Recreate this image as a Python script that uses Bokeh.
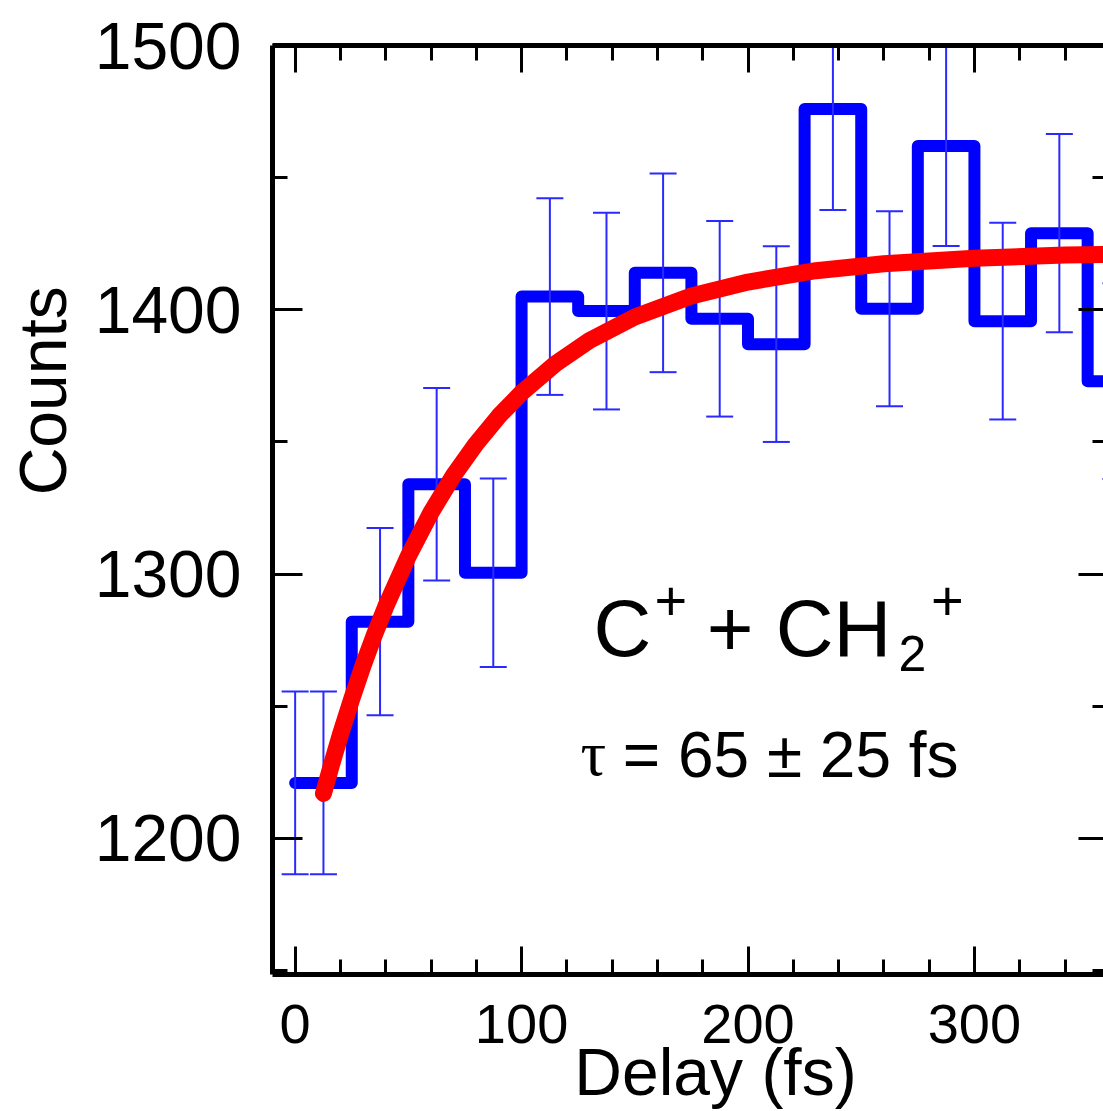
import math
from bokeh.plotting import figure
from bokeh.models import Range1d, LinearAxis, FixedTicker, Label
from bokeh.embed import file_html
from bokeh.resources import INLINE

# ---------------- data ----------------
bin_edges = [0, 25, 50, 75, 100, 125, 150, 175, 200, 225, 250, 275, 300, 325, 350, 375]
counts = [1221, 1282, 1334, 1300.5, 1405, 1399.5, 1414, 1396.6, 1387, 1476, 1400.4, 1462, 1395.7, 1429, 1373]

err_x = [0, 12.5, 37.5, 62.5, 87.5, 112.5, 137.5, 162.5, 187.5, 212.5, 237.5, 262.5, 287.5, 312.5, 337.5, 362.5]
err_y = [1221, 1221, 1282, 1334, 1300.5, 1405, 1399.5, 1414, 1396.6, 1387, 1476, 1400.4, 1462, 1395.7, 1429, 1373]
err_half = [34.6, 34.6, 35.4, 36.4, 35.7, 37.2, 37.2, 37.6, 37.0, 37.0, 38.2, 36.9, 37.9, 37.2, 37.5, 37.0]

fit_x = [12.5, 16, 20, 25, 30, 35, 40, 50, 60, 70, 80, 90, 100, 115, 130, 150, 175, 200, 230, 260, 300, 340, 360]
fit_y = [1217.0, 1227.7, 1239.3, 1252.8, 1265.4, 1277.0, 1287.7, 1306.8, 1323.3, 1337.4, 1349.4, 1359.8,
         1368.6, 1379.6, 1388.4, 1397.3, 1405.2, 1410.5, 1414.8, 1417.4, 1419.5, 1420.7, 1421.0]

x_major = [0, 100, 200, 300]
x_minor = [20, 40, 60, 80, 120, 140, 160, 180, 220, 240, 260, 280, 320, 340]
y_major = [1200, 1300, 1400, 1500]
y_minor = [1150, 1250, 1350, 1450]

x_title = "Delay (fs)"
y_title = "Counts"
species = ["C", "+", "+ CH", "2", "+"]
tau_sym = "\u03c4"
tau_text = "= 65 \u00b1 25 fs"

NBSP = "\u00a0"

# ---------------- figure ----------------
FONT = "Liberation Sans"
p = figure(width=1103, height=1111,
           x_range=Range1d(-10, 357), y_range=Range1d(1148.5, 1500),
           output_backend="svg", toolbar_location=None,
           x_axis_location=None, y_axis_location=None,
           min_border_left=272, min_border_right=0,
           min_border_top=45, min_border_bottom=137)
p.outline_line_color = None
p.xgrid.visible = False
p.ygrid.visible = False
p.background_fill_color = "white"
p.border_fill_color = "white"


def make_axis(ticks, minor, major_in, minor_in, labels, size="1px", standoff=0, line=True):
    ax = LinearAxis(ticker=FixedTicker(ticks=ticks, minor_ticks=minor))
    ax.major_tick_in = major_in
    ax.major_tick_out = 0
    ax.minor_tick_in = minor_in
    ax.minor_tick_out = 0
    ax.major_tick_line_width = 3
    ax.minor_tick_line_width = 3
    ax.major_tick_line_color = "black"
    ax.minor_tick_line_color = "black"
    if line:
        ax.axis_line_width = 5
        ax.axis_line_color = "black"
    else:
        ax.axis_line_color = None
    ax.major_label_text_font = FONT
    ax.major_label_text_color = "black"
    ax.major_label_text_font_size = size
    ax.major_label_standoff = standoff
    if not labels:
        ax.major_label_overrides = {t: "" for t in ticks}
    ax.axis_label_text_font = FONT
    ax.axis_label_text_font_style = "normal"
    ax.axis_label_text_color = "black"
    return ax


xb = make_axis(x_major, x_minor, 28, 15, True, "56px", 30)
xb.axis_label = NBSP * 3 + x_title
xb.axis_label_text_font_size = "66px"
xb.axis_label_standoff = -11
p.add_layout(xb, "below")

p.add_layout(make_axis(x_major, x_minor, 27, 15, False), "above")

yl = make_axis(y_major, y_minor, 30, 15, True, "66px", 31)
yl.axis_label = NBSP * 13 + y_title
yl.axis_label_text_font_size = "66px"
yl.axis_label_standoff = 12
p.add_layout(yl, "left")

p.add_layout(make_axis(y_major, y_minor, 25, 11, False, line=False), "right")

# ---------------- data marks ----------------
BLUE = "#0000ff"
EBLUE = "#2a2aff"
p.step(x=bin_edges, y=counts + [counts[-1]], mode="after",
       line_color=BLUE, line_width=12, line_join="round", line_cap="round")

lo = [y - e for y, e in zip(err_y, err_half)]
hi = [y + e for y, e in zip(err_y, err_half)]
p.segment(x0=err_x, y0=lo, x1=err_x, y1=hi, line_color=EBLUE, line_width=2)
p.scatter(x=err_x, y=hi, marker="dash", size=27, line_color=EBLUE, line_width=2)
p.scatter(x=err_x, y=lo, marker="dash", size=27, line_color=EBLUE, line_width=2)

p.line(x=fit_x, y=fit_y, line_color="#ff0000", line_width=17, line_cap="round", line_join="round")

# ---------------- texts inside the frame ----------------
def lab(x, y, text, size, font=FONT):
    p.add_layout(Label(x=x, y=y, text=text, text_font=font, text_font_size=size,
                       text_align="left", text_baseline="alphabetic", text_color="black"))

lab(131.8, 1279.3, species[0], "80px")
lab(158.7, 1289.7, species[1], "56px")
lab(181.8, 1279.3, species[2], "80px")
lab(266.5, 1269.8, species[3], "50px")
lab(280.8, 1289.7, species[4], "56px")

lab(126.0, 1232.0, tau_sym, "64px", font="Liberation Serif")
lab(144.7, 1231.7, tau_text, "64px")

open("out.html", "w").write(file_html(p, INLINE))
